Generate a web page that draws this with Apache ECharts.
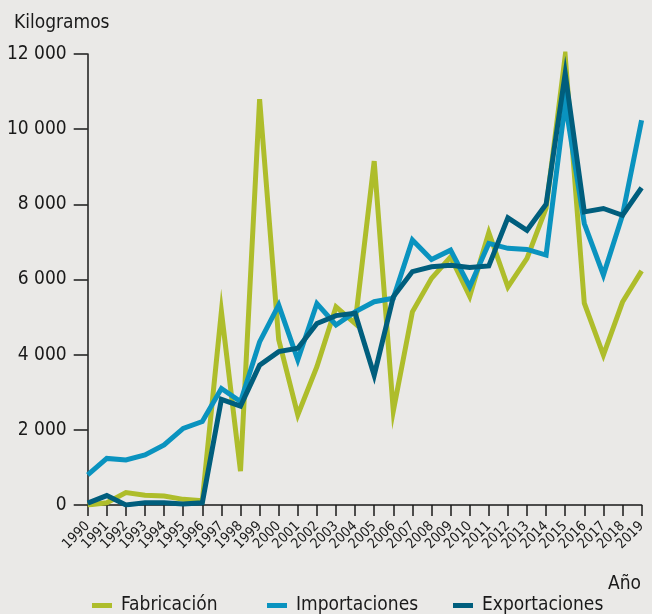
<!DOCTYPE html>
<html>
<head>
<meta charset="utf-8">
<script src="https://cdn.jsdelivr.net/npm/echarts@6/dist/echarts.min.js"></script>
<style>
html,body{margin:0;padding:0;background:#EAE9E7;}
#c{width:652px;height:614px;}
</style>
</head>
<body>
<div id="c"></div>
<script>
const years = ['1990','1991','1992','1993','1994','1995','1996','1997','1998','1999','2000','2001','2002','2003','2004','2005','2006','2007','2008','2009','2010','2011','2012','2013','2014','2015','2016','2017','2018','2019'];
const fabricacion = [0, 60, 330, 260, 240, 150, 110, 5150, 900, 10800, 4400, 2400, 3680, 5270, 4830, 9150, 2500, 5140, 6030, 6600, 5550, 7250, 5800, 6560, 7900, 11950, 5370, 3990, 5400, 6230];
const importaciones = [800, 1240, 1200, 1330, 1600, 2040, 2220, 3100, 2750, 4340, 5320, 3860, 5360, 4790, 5140, 5410, 5500, 7050, 6530, 6780, 5810, 6960, 6830, 6800, 6650, 10700, 7490, 6120, 7710, 10240];
const exportaciones = [50, 250, 0, 60, 60, 30, 60, 2810, 2630, 3720, 4080, 4170, 4830, 5040, 5100, 3450, 5540, 6210, 6340, 6380, 6320, 6360, 7640, 7310, 8000, 11480, 7800, 7890, 7710, 8440];
const seriesNames = ['Fabricación', 'Importaciones', 'Exportaciones'];
const yTicks = { min: 0, max: 12000, interval: 2000 };
const colors = ['#AEBD2B', '#0A93BF', '#005E7D'];
const font = '"DejaVu Sans Condensed","Liberation Sans Narrow","Roboto",sans-serif';

const chart = echarts.init(document.getElementById('c'));
const data = [fabricacion, importaciones, exportaciones];
const legendLefts = [87, 262, 448];
chart.setOption({
  backgroundColor: '#EAE9E7',
  animation: false,
  textStyle: { fontFamily: font, color: '#1a1a1a' },
  grid: { left: 87.7, right: 10.4, top: 54, bottom: 109, containLabel: false },
  legend: seriesNames.map((n, i) => ({
    data: [n],
    left: legendLefts[i], top: 591,
    icon: 'rect', itemWidth: 20, itemHeight: 5,
    itemGap: 0,
    textStyle: { fontFamily: font, fontSize: 19, color: '#1a1a1a', padding: [0,0,0,4] }
  })),
  graphic: [
    { type: 'text', left: 14, top: 14, style: { text: 'Kilogramos', font: '19px ' + font, fill: '#1a1a1a' } },
    { type: 'text', right: 11, top: 575, style: { text: 'Año', font: '19px ' + font, fill: '#1a1a1a' } }
  ],
  xAxis: {
    type: 'category', data: years, boundaryGap: false,
    axisLine: { lineStyle: { color: '#1a1a1a', width: 1.5 } },
    axisTick: { show: true, length: 11, lineStyle: { color: '#1a1a1a', width: 1.5 } },
    axisLabel: { rotate: 45, fontSize: 14, margin: 19, color: '#1a1a1a', fontFamily: font, interval: 0 },
    splitLine: { show: false }
  },
  yAxis: {
    type: 'value', min: yTicks.min, max: yTicks.max, interval: yTicks.interval,
    axisLine: { show: true, lineStyle: { color: '#1a1a1a', width: 1.5 } },
    axisTick: { show: true, length: 14, lineStyle: { color: '#1a1a1a', width: 1.5 } },
    axisLabel: { fontSize: 19, margin: 21, color: '#1a1a1a', fontFamily: font,
      formatter: v => String(v).replace(/\B(?=(\d{3})+(?!\d))/g, ' ') },
    splitLine: { show: false }
  },
  series: seriesNames.map((n, i) => ({
    name: n, type: 'line', data: data[i], showSymbol: false, symbol: 'none',
    color: colors[i],
    lineStyle: { width: 5, color: colors[i], join: 'miter', miterLimit: 10 },
    z: 2 + i
  }))
});
</script>
</body>
</html>
